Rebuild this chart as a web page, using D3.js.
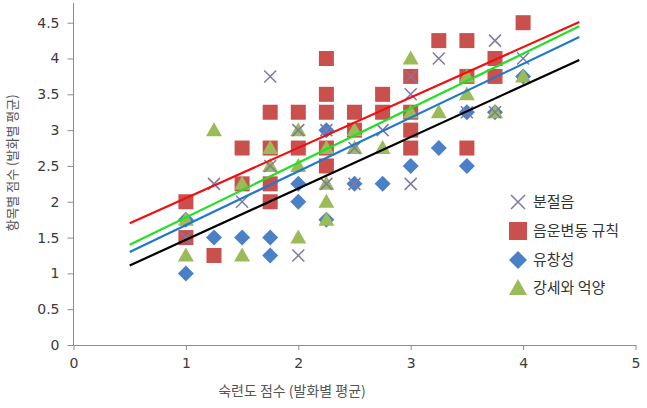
<!DOCTYPE html>
<html>
<head>
<meta charset="utf-8">
<script src="https://cdn.jsdelivr.net/npm/d3@7"></script>
<style>
  body { margin: 0; background: #fff; }
  svg { display: block; font-family: "Noto Sans CJK KR", "DejaVu Sans", sans-serif; }
</style>
</head>
<body>
<svg id="chart" width="647" height="408"></svg>
<script>
// series points [x, y]
const segmental = [[1,1.5],[1.25,2.25],[1.5,2.0],[1.75,3.75],[1.75,2.5],[2,3.0],[2,1.25],[2.25,3.0],[2.25,2.25],
  [2.5,2.75],[2.5,2.25],[2.75,3.0],[3,3.75],[3,3.5],[3,2.25],[3.25,4.0],[3.5,3.25],[3.75,4.25],[3.75,3.25],[4,4.0]];
const phonRules = [[1,2.0],[1,1.5],[1.25,1.25],[1.5,2.75],[1.5,2.25],[1.75,3.25],[1.75,2.75],[1.75,2.25],[1.75,2.0],
  [2,3.25],[2,2.75],[2.25,4.0],[2.25,3.5],[2.25,3.25],[2.25,2.75],[2.25,2.5],[2.5,3.25],[2.5,3.0],[2.75,3.5],[2.75,3.25],
  [3,3.75],[3,3.25],[3,3.0],[3,2.75],[3.25,4.25],[3.5,4.25],[3.5,3.75],[3.5,2.75],[3.75,4.0],[3.75,3.75],[4,4.5]];
const fluency = [[1,1.75],[1,1.0],[1.25,1.5],[1.5,1.5],[1.75,1.5],[1.75,1.25],[2,2.25],[2,2.0],[2.25,3.0],[2.25,1.75],
  [2.5,2.25],[2.75,2.25],[3,2.5],[3.25,2.75],[3.5,3.25],[3.5,2.5],[3.75,3.25],[4,3.75]];
const prosody = [[1,1.75],[1,1.25],[1.25,3.0],[1.5,2.25],[1.5,1.25],[1.75,2.75],[1.75,2.5],[2,3.0],[2,2.5],[2,1.5],
  [2.25,2.75],[2.25,2.25],[2.25,2.0],[2.25,1.75],[2.5,3.0],[2.5,2.75],[2.75,2.75],[3,4.0],[3,3.25],[3.25,3.25],
  [3.5,3.75],[3.5,3.5],[3.75,3.25],[4,3.75]];

const seriesNames = ["분절음", "음운변동 규칙", "유창성", "강세와 억양"];
const seriesColors = ["#8078a6", "#c9504d", "#4a80c6", "#9bbb59"];

// trend lines, y at x = 0.5 and x = 4.5
const trendX = [0.5, 4.5];
const trendRed = [1.70, 4.51];
const trendGreen = [1.40, 4.45];
const trendBlue = [1.30, 4.30];
const trendBlack = [1.11, 3.98];

const xTicks = [0, 1, 2, 3, 4, 5];
const yTicks = [0, 0.5, 1, 1.5, 2, 2.5, 3, 3.5, 4, 4.5];

const svg = d3.select("#chart");
const x = d3.scaleLinear().domain([0, 5]).range([73.5, 635.5]);
const y = d3.scaleLinear().domain([0, 4.5]).range([345, 22.7]);

// axes
const xAxis = svg.append("g").attr("transform", "translate(0,345)")
  .call(d3.axisBottom(x).tickValues(xTicks).tickSize(5).tickSizeOuter(0).tickPadding(8).tickFormat(d3.format("d")));
const yAxis = svg.append("g").attr("transform", "translate(73.5,0)")
  .call(d3.axisLeft(y).tickValues(yTicks).tickSize(6).tickSizeOuter(0).tickPadding(8).tickFormat(d => d));
[xAxis, yAxis].forEach(g => {
  g.selectAll("path, line").attr("stroke", "#8c8c8c");
  g.selectAll("text").attr("fill", "#3a3a3a").style("font-size", "14px").style("font-family", "'DejaVu Sans', sans-serif");
});
yAxis.select(".domain").attr("d", "M0,345V3");

// markers
const g = svg.append("g");
g.selectAll(".sq").data(phonRules).enter().append("rect")
  .attr("x", d => x(d[0]) - 7.5).attr("y", d => y(d[1]) - 7.5)
  .attr("width", 15).attr("height", 15).attr("fill", seriesColors[1]);
g.selectAll(".dm").data(fluency).enter().append("path")
  .attr("d", d => `M${x(d[0])},${y(d[1]) - 8}l8,8l-8,8l-8,-8z`).attr("fill", seriesColors[2]);
g.selectAll(".tr").data(prosody).enter().append("path")
  .attr("d", d => `M${x(d[0])},${y(d[1]) - 8}l8,14h-16z`).attr("fill", seriesColors[3]);
g.selectAll(".xx").data(segmental).enter().append("path")
  .attr("d", d => `M${x(d[0]) - 6},${y(d[1]) - 6}l12,12m0,-12l-12,12`)
  .attr("stroke", seriesColors[0]).attr("stroke-width", 1.5).attr("fill", "none");

// trend lines
const line = d3.line().x(d => x(d[0])).y(d => y(d[1]));
[[trendBlack, "#000000"], [trendBlue, "#1f78d0"], [trendGreen, "#22e022"], [trendRed, "#f01010"]].forEach(([vals, col]) => {
  svg.append("path").datum(trendX.map((t, i) => [t, vals[i]]))
    .attr("d", line).attr("stroke", col).attr("stroke-width", 2.2).attr("fill", "none");
});

// legend
const lg = svg.append("g").attr("transform", "translate(518,0)");
const legY = [202, 231, 260, 288];
seriesNames.forEach((name, i) => {
  const row = lg.append("g").attr("transform", `translate(0,${legY[i]})`);
  if (i === 0) row.append("path").attr("d", "M-7,-7l14,14m0,-14l-14,14").attr("stroke", seriesColors[0]).attr("stroke-width", 1.5);
  if (i === 1) row.append("rect").attr("x", -9).attr("y", -9).attr("width", 18).attr("height", 18).attr("fill", seriesColors[1]);
  if (i === 2) row.append("path").attr("d", "M0,-9l9,9l-9,9l-9,-9z").attr("fill", seriesColors[2]);
  if (i === 3) row.append("path").attr("d", "M0,-9l9,16h-18z").attr("fill", seriesColors[3]);
  row.append("text").attr("x", 15).attr("y", 5).attr("fill", "#333").style("font-size", "15px").text(name);
});

// axis titles
svg.append("text").attr("x", 292).attr("y", 396).attr("text-anchor", "middle")
  .attr("fill", "#555").style("font-size", "14px").text("숙련도 점수 (발화별 평균)");
svg.append("text").attr("transform", "translate(17,163) rotate(-90)").attr("text-anchor", "middle")
  .attr("fill", "#555").style("font-size", "13px").text("항목별 점수 (발화별 평균)");
</script>
</body>
</html>
